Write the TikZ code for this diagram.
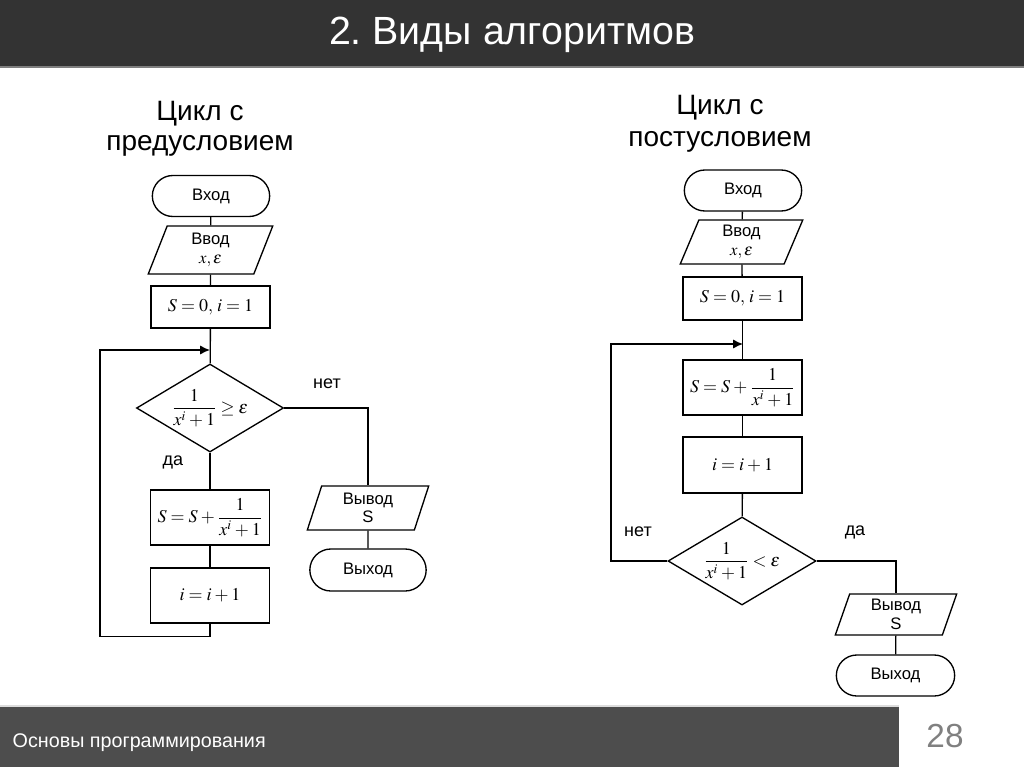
\documentclass[tikz,border=0pt]{standalone}
\usepackage{amsmath}
\usepackage{mathptmx}
\usepackage[no-math]{fontspec}
\setmainfont{Liberation Sans}
\usetikzlibrary{shapes.geometric,shapes.misc,arrows.meta}
\definecolor{headbg}{HTML}{333333}
\definecolor{footbg}{HTML}{4D4D4D}
\definecolor{numgray}{HTML}{808080}
\definecolor{linegray}{HTML}{7F7F7F}
\definecolor{lightline}{HTML}{DDDDDD}
\thickmuskip=4mu plus 1mu
\medmuskip=3mu plus 1mu
\frenchspacing
\begin{document}
\begin{tikzpicture}[x=0.75pt,y=-0.75pt,
  box/.style={draw, line width=1pt, font=\fontsize{12.5}{14}\selectfont, inner sep=1pt, align=center},
  term/.style={box, rounded rectangle, minimum width=120*0.75pt, minimum height=41*0.75pt},
  io/.style={box, trapezium, trapezium left angle=76, trapezium right angle=104,
     trapezium stretches=true, minimum width=124*0.75pt, minimum height=45*0.75pt},
  proc/.style={box, rectangle, minimum width=119*0.75pt, minimum height=55*0.75pt, font=\fontsize{13.5}{15}\selectfont},
  dec/.style={box, diamond, aspect=1.66, minimum width=147*0.75pt, minimum height=88*0.75pt, inner sep=0pt, font=\fontsize{13.5}{15}\selectfont},
  lbl/.style={font=\fontsize{13.5}{15}\selectfont},
  ttl/.style={font=\fontsize{21}{24}\selectfont, anchor=base},
  conn/.style={line width=1pt},
  arr/.style={conn, -{Latex[length=7.5pt,width=7pt]}}
]
\useasboundingbox (0,0) rectangle (1024,767);
% header
\fill[headbg] (0,0) rectangle (1024,66);
\fill[linegray] (0,66) rectangle (1024,68);
\node[text=white, font=\fontsize{29.5}{32}\selectfont] (head) at (512,35) {2. Виды алгоритмов};
% footer
\fill[lightline] (0,705) rectangle (899,707);
\fill[footbg] (0,707) rectangle (899,767);
\node[text=white, font=\fontsize{14.8}{17}\selectfont, anchor=base west] (foot) at (8,747) {Основы программирования};
\node[text=numgray, font=\fontsize{25}{28}\selectfont, anchor=base] (num) at (945,747) {28};

% ---------- left chart ----------
\node[ttl] (t1a) at (200,120) {Цикл с};
\node[ttl] (t1b) at (200,150) {предусловием};
\node[term] (in1) at (211,196) {Вход};
\node[io, minimum width=125*0.75pt, minimum height=48*0.75pt] (rd1) at (210.5,250) {Ввод\\$x,\varepsilon$};
\node[proc, minimum height=42*0.75pt] (s01) at (210.5,307) {$S=0,\,i=1$};
\coordinate (j1) at (210,350);
\coordinate (c1) at (100,350);
\node[dec] (d1) at (210,408) {$\dfrac{1}{x^{i}+1}\geq\varepsilon$};
\node[proc] (a1) at (210,517.5) {$S=S+\dfrac{1}{x^{i}+1}$};
\node[proc] (b1) at (210,595.5) {$i=i+1$};
\node[io, minimum width=122*0.75pt, minimum height=44*0.75pt] (out1) at (368,508) {Вывод\\S};
\node[term, minimum width=119*0.75pt, minimum height=42*0.75pt] (ex1) at (368,570) {Выход};
\node[lbl] (no1) at (327,384) {нет};
\node[lbl] (yes1) at (173,462) {да};

\draw[conn] (in1) -- (rd1);
\draw[conn] (rd1) -- (s01);
\draw[conn] (s01) -- (d1);
\draw[conn] (d1) -- (a1);
\draw[conn] (a1) -- (b1);
\draw[conn] (d1.east) -| (out1.north);
\draw[conn] (out1) -- (ex1);
\draw[arr] (b1.south) -- ++(0,13) -| (c1) -- (j1);

% ---------- right chart ----------
\node[ttl] (t2a) at (720,114) {Цикл с};
\node[ttl] (t2b) at (720,146) {постусловием};
\node[term] (in2) at (743,190.5) {Вход};
\node[io, minimum width=123*0.75pt, minimum height=44*0.75pt] (rd2) at (741.5,242) {Ввод\\$x,\varepsilon$};
\node[proc, minimum height=43*0.75pt] (s02) at (742.5,298.5) {$S=0,\,i=1$};
\coordinate (j2) at (743,344);
\coordinate (c2) at (611,344);
\node[proc] (a2) at (742.5,387.5) {$S=S+\dfrac{1}{x^{i}+1}$};
\node[proc, minimum height=56*0.75pt] (b2) at (742.5,465) {$i=i+1$};
\node[dec, minimum width=148*0.75pt] (d2) at (742,561) {$\dfrac{1}{x^{i}+1}<\varepsilon$};
\node[io, minimum width=122*0.75pt, minimum height=41*0.75pt] (out2) at (896,614.5) {Вывод\\S};
\node[term, minimum width=121*0.75pt] (ex2) at (895.5,675.5) {Выход};
\node[lbl] (no2) at (638,532) {нет};
\node[lbl] (yes2) at (855,532) {да};

\draw[conn] (in2) -- (rd2);
\draw[conn] (rd2) -- (s02);
\draw[conn] (s02) -- (a2);
\draw[conn] (a2) -- (b2);
\draw[conn] (b2) -- (d2);
\draw[conn] (d2.east) -| (out2.north);
\draw[conn] (out2) -- (ex2);
\draw[arr] (d2.west) -| (c2) -- (j2);
\end{tikzpicture}
\end{document}
